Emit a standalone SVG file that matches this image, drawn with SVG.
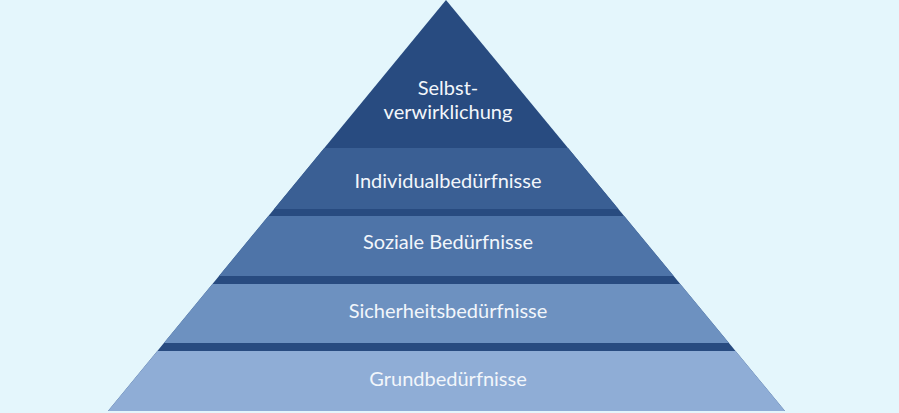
<svg xmlns="http://www.w3.org/2000/svg" width="899" height="413" viewBox="0 0 899 413">
<style>text{font-family:Lato,"Open Sans",sans-serif;font-size:20px;fill:#f2f6fb;text-anchor:middle}</style>
<defs><clipPath id="tri"><polygon points="446,0 785,411 108,411"/></clipPath></defs>
<rect width="899" height="413" fill="#e4f6fc"/>
<g clip-path="url(#tri)">
<rect id="pyr" x="0" y="0" width="899" height="411" fill="#284b80"/>
<g id="n2"><rect x="0" y="148" width="899" height="61" fill="#3a5f94"/></g>
<g id="n3"><rect x="0" y="216" width="899" height="60" fill="#4e74a8"/></g>
<g id="n4"><rect x="0" y="284" width="899" height="59" fill="#6d91c0"/></g>
<g id="n5"><rect x="0" y="351" width="899" height="60" fill="#8fadd6"/></g>
</g>
<g id="n1"><text x="448" y="95">Selbst-</text><text x="448" y="119">verwirklichung</text></g>
<text x="448" y="188">Individualbedürfnisse</text>
<text x="448" y="249">Soziale Bedürfnisse</text>
<text x="448" y="318">Sicherheitsbedürfnisse</text>
<text x="448" y="386">Grundbedürfnisse</text>
</svg>
